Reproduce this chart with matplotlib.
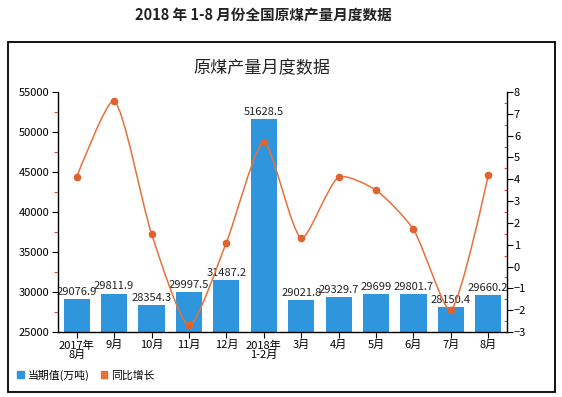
import matplotlib
matplotlib.use("Agg")
import matplotlib.pyplot as plt
from matplotlib.path import Path
from matplotlib.patches import PathPatch, Patch, Rectangle
import numpy as np

plt.rcParams['font.family'] = ['Noto Sans CJK SC', 'DejaVu Sans']

categories = ["2017年\n8月", "9月", "10月", "11月", "12月", "2018年\n1-2月",
              "3月", "4月", "5月", "6月", "7月", "8月"]
output = [29076.9, 29811.9, 28354.3, 29997.5, 31487.2, 51628.5,
          29021.8, 29329.7, 29699, 29801.7, 28150.4, 29660.2]
growth = [4.1, 7.6, 1.5, -2.7, 1.1, 5.7, 1.3, 4.1, 3.5, 1.7, -2.0, 4.2]

BLUE = '#2F96DD'
ORANGE = '#E8703A'
MARKER = '#E0622C'

fig = plt.figure(figsize=(5.62, 3.97), dpi=100)
W, H = 562, 397
ax = fig.add_axes([58 / W, 1 - 332 / H, 449 / W, 240 / H])

x = np.arange(len(categories))
ax.bar(x, output, width=0.7, color=BLUE, zorder=2)
ax.set_xlim(-0.5, len(categories) - 0.5)
ax.set_ylim(25000, 55000)
ax.set_yticks(np.arange(25000, 55001, 5000))
ax.set_yticks(np.arange(27500, 55000, 5000), minor=True)
ax.tick_params(axis='y', which='major', length=4, width=0.8, labelsize=8, pad=2)
ax.tick_params(axis='y', which='minor', length=3, width=0.8, color='#E84A4A')
ax.set_xticks(x)
ax.set_xticklabels(categories, fontsize=8, linespacing=0.95)
ax.tick_params(axis='x', length=4, width=0.8, pad=2)
for s in ['top', 'right']:
    ax.spines[s].set_visible(False)
for s in ['left', 'bottom']:
    ax.spines[s].set_linewidth(1.0)

for xi, v in zip(x, output):
    ax.annotate(f"{v:g}", (xi, v), xytext=(0, 1.5), textcoords='offset points',
                ha='center', va='bottom', fontsize=8, color='#222222', zorder=5)

ax2 = ax.twinx()
ax2.set_ylim(-3, 8)
ax2.set_yticks(np.arange(-3, 9, 1))
ax2.set_yticks(np.arange(-2.5, 8, 1), minor=True)
ax2.tick_params(axis='y', which='major', length=4, width=0.8, labelsize=8, pad=1)
ax2.tick_params(axis='y', which='minor', length=2, width=0.8, color='#E84A4A', direction='in')
for s in ['top', 'left', 'bottom']:
    ax2.spines[s].set_visible(False)
ax2.spines['right'].set_linewidth(1.0)

# lightly smoothed curve through the points, computed in display space
smooth = 0.22
P = ax2.transData.transform(np.column_stack([x, growth]).astype(float))
n = len(P)
cp_before = [P[0].copy()]
cp_after = [P[0].copy()]
for i in range(1, n - 1):
    prev, p, nxt = P[i - 1], P[i], P[i + 1]
    v = (nxt - prev) * smooth
    d0 = np.hypot(*(p - prev))
    d1 = np.hypot(*(p - nxt))
    s = d0 + d1
    cp_before.append(p - v * d0 / s)
    cp_after.append(p + v * d1 / s)
cp_before.append(P[-1].copy())
cp_after.append(P[-1].copy())
verts = [P[0]]
codes = [Path.MOVETO]
for i in range(n - 1):
    verts += [cp_after[i], cp_before[i + 1], P[i + 1]]
    codes += [Path.CURVE4] * 3
verts = ax2.transData.inverted().transform(np.array(verts))
ax2.add_patch(PathPatch(Path(verts, codes), facecolor='none', edgecolor=ORANGE, lw=1.1, zorder=3))
ax2.plot(x, growth, linestyle='none', marker='o', markersize=4.5, color=MARKER, zorder=4)

# titles
fig.text(263 / W, 1 - 16 / H, "2018 年 1-8 月份全国原煤产量月度数据", ha='center', va='center',
         fontsize=10.5, fontweight='bold', color='#222222')
fig.text(262 / W, 1 - 68 / H, "原煤产量月度数据", ha='center', va='center', fontsize=12.3, color='#222222')

# outer frame
fig.patches.append(Rectangle((8 / W, 1 - 392 / H), (555 - 8) / W, (392 - 42) / H,
                             transform=fig.transFigure, fill=False, lw=1.3, edgecolor='black'))

handles = [Patch(color=BLUE, label='当期值(万吨)'), Patch(color=ORANGE, label='同比增长')]
fig.legend(handles=handles, loc='center left', bbox_to_anchor=(17 / W, 1 - 375 / H), ncol=2,
           frameon=False, fontsize=7.8, handlelength=0.6, handleheight=0.6, handletextpad=0.4,
           columnspacing=1.0, borderpad=0, borderaxespad=0)

fig.savefig("out.png", dpi=100)
